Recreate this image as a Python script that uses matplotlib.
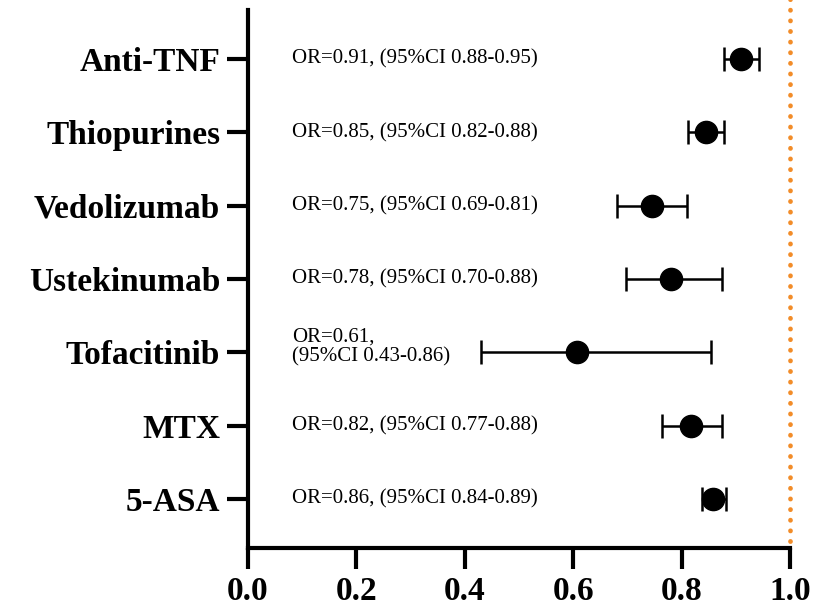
import matplotlib
matplotlib.use("Agg")
import matplotlib.pyplot as plt

drugs = ["Anti-TNF", "Thiopurines", "Vedolizumab", "Ustekinumab", "Tofacitinib", "MTX", "5-ASA"]
odds = [0.91, 0.845, 0.745, 0.78, 0.607, 0.817, 0.858]
ci_low = [0.878, 0.812, 0.681, 0.697, 0.43, 0.763, 0.837]
ci_high = [0.943, 0.878, 0.81, 0.875, 0.854, 0.875, 0.882]
labels = [
    "OR=0.91, (95%CI 0.88-0.95)",
    "OR=0.85, (95%CI 0.82-0.88)",
    "OR=0.75, (95%CI 0.69-0.81)",
    "OR=0.78, (95%CI 0.70-0.88)",
    "OR=0.61,\n(95%CI 0.43-0.86)",
    "OR=0.82, (95%CI 0.77-0.88)",
    "OR=0.86, (95%CI 0.84-0.89)",
]
xticks = [0.0, 0.2, 0.4, 0.6, 0.8, 1.0]

plt.rcParams["font.family"] = ["Liberation Serif", "DejaVu Serif"]

fig = plt.figure(figsize=(8.33, 6.16), dpi=100)
ax = fig.add_axes([0.2977, 0.1104, 0.6507, 0.8734])

ypos = list(range(len(drugs)))
err = [[o - l for o, l in zip(odds, ci_low)], [h - o for o, h in zip(odds, ci_high)]]
ax.errorbar(odds, ypos, xerr=err, fmt="o", color="black", markersize=16,
            elinewidth=1.8, capsize=8.5, capthick=1.8, zorder=3)

for y, lab in zip(ypos, labels):
    dy = -0.07 if "\n" in lab else 0
    ax.text(0.081, y + dy, lab, fontsize=15, va="center", ha="left", linespacing=1.05)

# reference line at OR = 1
ax.plot([1.0, 1.0], [-0.85, 6.6], color="#F28C28", linewidth=3.4,
        linestyle=(0, (0.05, 2.2)), dash_capstyle="round", clip_on=False, zorder=2)

ax.set_xlim(0, 1.0)
ax.set_ylim(6.67, -0.67)
ax.set_xticks(xticks)
ax.set_xticklabels([f"{t:.1f}" for t in xticks])
ax.set_yticks(ypos)
ax.set_yticklabels(drugs)

for lab in ax.get_xticklabels() + ax.get_yticklabels():
    lab.set_fontweight("bold")
    lab.set_fontsize(24)

ax.tick_params(axis="both", width=3, length=15, pad=5)
ax.spines["top"].set_visible(False)
ax.spines["right"].set_visible(False)
ax.spines["left"].set_linewidth(3)
ax.spines["bottom"].set_linewidth(3)

fig.savefig("out.png", dpi=100)
